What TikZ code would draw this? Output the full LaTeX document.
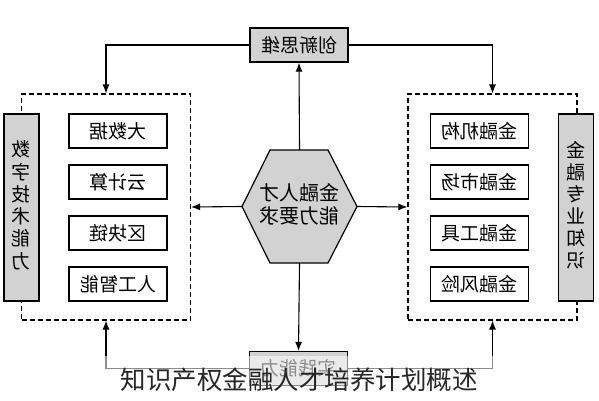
\documentclass[tikz,border=0pt]{standalone}
\usepackage{graphicx}
\usepackage{fontspec}
\newfontfamily\cjk{Noto Sans CJK SC}
\usetikzlibrary{arrows.meta}
\newcommand{\mir}[1]{\reflectbox{#1}}

\begin{document}
\begin{tikzpicture}[x=1pt,y=-1pt,
    graybox/.style={draw,line width=1.2pt,fill=gray!35,inner sep=0pt,font=\cjk\fontsize{19}{21}\selectfont},
    itembox/.style={draw,line width=1.2pt,fill=white,minimum width=98pt,minimum height=34pt,inner sep=0pt,font=\cjk\fontsize{19}{21}\selectfont},
    dashframe/.style={draw,line width=1.1pt,dash pattern=on 5pt off 3pt,inner sep=0pt,minimum width=169pt,minimum height=226pt},
    link/.style={line width=1.1pt,-{Latex[length=9pt,width=7pt]}}]
        \useasboundingbox (0,0) rectangle (599,400);
        % dashed frames
        \node[dashframe] (lframe) at (106,207) {};
        \node[dashframe] (rframe) at (492.5,207) {};
        % centre hexagon
        \draw[line width=1.2pt,fill=gray!35] (242,206.5) -- (270,150) -- (328,150) -- (357,206.5) -- (328,263) -- (270,263) -- cycle;
        \node[minimum width=115pt,minimum height=113pt,inner sep=0pt,font=\cjk\fontsize{20}{19}\selectfont] (hex) at (299.5,206.5)
            {\mir{\begin{tabular}{@{}c@{}}金融人才\\能力要求\end{tabular}}};
        % top and bottom boxes
        \node[graybox,minimum width=98pt,minimum height=34pt] (think) at (299,45) {\mir{创新思维}};
        \node[graybox,minimum width=98pt,minimum height=34pt] (practice) at (298.5,368.5) {\mir{实践能力}};
        % side bars
        \node[graybox,minimum width=35pt,minimum height=187pt] (digital) at (21.5,207.5)
            {\mir{\begin{tabular}{@{}c@{}}数\\字\\技\\术\\能\\力\end{tabular}}};
        \node[graybox,minimum width=35pt,minimum height=187pt] (finance) at (576,207.5)
            {\mir{\begin{tabular}{@{}c@{}}金\\融\\专\\业\\知\\识\end{tabular}}};
        % item boxes
        \foreach \t [count=\i] in {大数据,云计算,区块链,人工智能} {
            \node[itembox] (l\i) at (118,80+51*\i) {\mir{\t}};
        }
        \foreach \t [count=\i] in {金融机构,金融市场,金融工具,金融风险} {
            \node[itembox] (r\i) at (479.5,80+51*\i) {\mir{\t}};
        }
        % connectors
        \draw[link] (hex.north) -- (think.south);
        \draw[link] (think.west) -| (lframe.north);
        \draw[link] (think.east) -| (rframe.north);
        \draw[link] (hex.west) -- (lframe.east);
        \draw[link] (hex.east) -- (rframe.west);
        \draw[link] (hex.south) -- (practice.north);
        \draw[link] (practice.west) -| (lframe.south);
        \draw[link] (practice.east) -| (rframe.south);
        % caption band
        \fill[white,opacity=0.55] (0,356) rectangle (599,400);
        \node[font=\cjk\fontsize{25.5}{26}\selectfont,text=black!85] (caption) at (299,380) {知识产权金融人才培养计划概述};
    \end{tikzpicture}
\end{document}
